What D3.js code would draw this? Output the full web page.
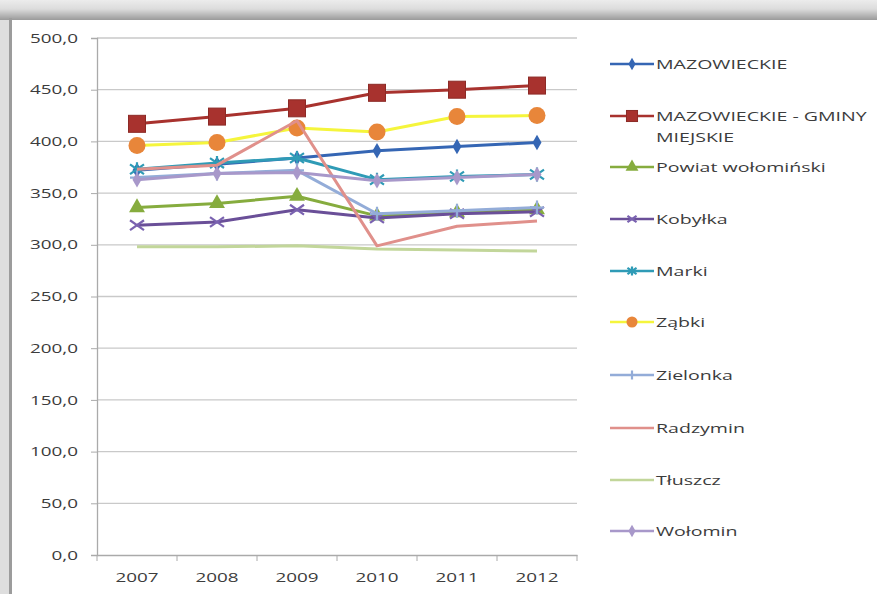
<!DOCTYPE html>
<html>
<head>
<meta charset="utf-8">
<script src="https://cdn.jsdelivr.net/npm/d3@7"></script>
<style>
  body { margin: 0; background: #fff; }
  svg { display: block; }
  text { font-family: "Open Sans", "DejaVu Sans", sans-serif; fill: #3c3c3c; }
</style>
</head>
<body>
<svg id="chart" width="877" height="594"></svg>
<script>
// data
var years = ["2007", "2008", "2009", "2010", "2011", "2012"];
var yTicks = [0, 50, 100, 150, 200, 250, 300, 350, 400, 450, 500];

var mazowieckie   = [372, 378, 384, 391, 395, 399];
var gminyMiejskie = [417, 424, 432, 447, 450, 454];
var powiat        = [336, 340, 347, 328, 331, 334];
var kobylka       = [319, 322, 334, 326, 330, 332];
var marki         = [373, 379, 384, 363, 366, 368];
var zabki         = [396, 399, 413, 409, 424, 425];
var zielonka      = [365, 369, 372, 330, 333, 336];
var radzymin      = [373, 377, 420, 299, 318, 323];
var tluszcz       = [298, 298, 299, 296, 295, 294];
var wolomin       = [363, 369, 370, 362, 365, 368];

var series = [
  {name: "MAZOWIECKIE", values: mazowieckie, color: "#3566b4", marker: "diamond", mcolor: "#3566b4"},
  {name: "MAZOWIECKIE - GMINY|MIEJSKIE", values: gminyMiejskie, color: "#a8322e", marker: "square", mcolor: "#a8322e"},
  {name: "Powiat wołomiński", values: powiat, color: "#86ac3e", marker: "triangle", mcolor: "#86ac3e"},
  {name: "Kobyłka", values: kobylka, color: "#6a4f98", marker: "x", mcolor: "#7a62b0"},
  {name: "Marki", values: marki, color: "#2f9bb6", marker: "star", mcolor: "#2f9bb6"},
  {name: "Ząbki", values: zabki, color: "#f5f53c", marker: "circle", mcolor: "#e8863a"},
  {name: "Zielonka", values: zielonka, color: "#93acd8", marker: "plus", mcolor: "#93acd8"},
  {name: "Radzymin", values: radzymin, color: "#e0908b", marker: null},
  {name: "Tłuszcz", values: tluszcz, color: "#c2d69a", marker: null},
  {name: "Wołomin", values: wolomin, color: "#a898ca", marker: "diamond", mcolor: "#a898ca"}
];

// the picture is stretched sideways, so text is too
var stretch = 1.45;

var svg = d3.select("#chart");

// frame round the chart (screenshot look)
var defs = svg.append("defs");
var grad = defs.append("linearGradient").attr("id", "topBar").attr("x1", 0).attr("y1", 0).attr("x2", 0).attr("y2", 1);
grad.append("stop").attr("offset", "0%").attr("stop-color", "#ececec");
grad.append("stop").attr("offset", "45%").attr("stop-color", "#dcdcdc");
grad.append("stop").attr("offset", "100%").attr("stop-color", "#9a9a9a");
svg.append("rect").attr("x", 0).attr("y", 0).attr("width", 877).attr("height", 20).attr("fill", "url(#topBar)");
svg.append("rect").attr("x", 0).attr("y", 20).attr("width", 12).attr("height", 574).attr("fill", "#dedede");
svg.append("rect").attr("x", 9).attr("y", 18).attr("width", 3).attr("height", 576).attr("fill", "#9c9c9c");
svg.append("rect").attr("x", 12).attr("y", 20).attr("width", 865).attr("height", 574).attr("fill", "#fff");

var x = d3.scaleBand().domain(years).range([97, 577]).padding(0);
var y = d3.scaleLinear().domain([0, 500]).range([555, 38]);
var cx = function(i) { return x(years[i]) + x.bandwidth() / 2; };

// gridlines
svg.append("g").selectAll("line").data(yTicks.slice(1)).enter().append("line")
  .attr("x1", 97).attr("x2", 577)
  .attr("y1", function(d) { return y(d); }).attr("y2", function(d) { return y(d); })
  .attr("stroke", "#c9c9c9").attr("stroke-width", 1.3);

// y axis
var yAxis = d3.axisLeft(y).tickValues(yTicks).tickSize(6).tickPadding(13)
  .tickFormat(function(d) { return d3.format(".1f")(d).replace(".", ","); });
var gy = svg.append("g").attr("transform", "translate(97,0)").call(yAxis);
gy.select(".domain").attr("stroke", "#aaaaaa").attr("stroke-width", 1.3);
gy.selectAll(".tick line").attr("stroke", "#aaaaaa");
gy.selectAll("text").each(function() {
  var t = d3.select(this), tx = +t.attr("x");
  t.attr("x", tx / stretch).attr("transform", "scale(" + stretch + ",1)");
}).attr("font-size", 13).attr("fill", "#3c3c3c");

// x axis
var xAxis = d3.axisBottom(x).tickSize(0).tickPadding(18);
var gx = svg.append("g").attr("transform", "translate(0,555)").call(xAxis);
gx.select(".domain").attr("stroke", "#aaaaaa").attr("stroke-width", 1.3);
gx.selectAll("text").attr("transform", "scale(" + stretch + ",1)")
  .attr("font-size", 13).attr("fill", "#3c3c3c");
gx.selectAll(".tick").each(function() {
  // keep label centred on the tick after the stretch
  var tr = d3.select(this).attr("transform");
  var tx = +tr.match(/translate\(([-\d.]+)/)[1];
  d3.select(this).attr("transform", "translate(" + tx + ",0)");
});
gx.selectAll("line.sep").data(years.concat(["end"])).enter().append("line")
  .attr("class", "sep")
  .attr("x1", function(d, i) { return 97 + i * x.bandwidth(); })
  .attr("x2", function(d, i) { return 97 + i * x.bandwidth(); })
  .attr("y1", 0).attr("y2", 6)
  .attr("stroke", "#aaaaaa");

// marker drawing
function drawMarker(g, type, color, px, py, scale) {
  scale = scale || 1;
  if (!type) return;
  var t = "translate(" + px + "," + py + ")";
  if (type === "diamond") {
    g.append("path").attr("transform", t).attr("d", d3.symbol().type(d3.symbolDiamond).size(70 * scale)()).attr("fill", color);
  } else if (type === "square") {
    var s = 17 * scale;
    g.append("rect").attr("x", px - s / 2).attr("y", py - s / 2).attr("width", s).attr("height", s).attr("fill", color).attr("stroke", "#8c2a26").attr("stroke-width", 1);
  } else if (type === "triangle") {
    g.append("path").attr("transform", t).attr("d", d3.symbol().type(d3.symbolTriangle).size(110 * scale)()).attr("fill", color);
  } else if (type === "circle") {
    g.append("circle").attr("cx", px).attr("cy", py).attr("r", 8.5 * scale).attr("fill", color);
  } else {
    var r = 7 * scale, p = "";
    if (type === "x" || type === "star") p += "M" + (-r) + "," + (-r * 0.7) + "L" + r + "," + (r * 0.7) + "M" + (-r) + "," + (r * 0.7) + "L" + r + "," + (-r * 0.7);
    if (type === "star") p += "M0," + (-r) + "L0," + r;
    if (type === "plus") p = "M" + (-r) + ",0L" + r + ",0M0," + (-r) + "L0," + r;
    g.append("path").attr("transform", t).attr("d", p).attr("fill", "none").attr("stroke", color).attr("stroke-width", 2.2);
  }
}

var line = d3.line().x(function(d, i) { return cx(i); }).y(function(d) { return y(d); });

var plot = svg.append("g");
series.forEach(function(s) {
  var g = plot.append("g");
  g.append("path").datum(s.values).attr("d", line)
    .attr("fill", "none").attr("stroke", s.color).attr("stroke-width", 3).attr("stroke-linejoin", "round");
  s.values.forEach(function(v, i) { drawMarker(g, s.marker, s.mcolor, cx(i), y(v)); });
});

// legend
var legY = [64, 116, 167, 219, 271, 322, 375, 428, 480, 531];
var leg = svg.append("g");
series.forEach(function(s, i) {
  var g = leg.append("g");
  g.append("line").attr("x1", 610).attr("x2", 654).attr("y1", legY[i]).attr("y2", legY[i])
    .attr("stroke", s.color).attr("stroke-width", 2.5);
  drawMarker(g, s.marker, s.mcolor, 632, legY[i], 0.65);
  var lines = s.name.split("|");
  lines.forEach(function(l, k) {
    g.append("text")
      .attr("transform", "translate(656," + (legY[i] + 5 + k * 21) + ") scale(" + stretch + ",1)")
      .attr("font-size", 13.5).text(l);
  });
});
</script>
</body>
</html>
